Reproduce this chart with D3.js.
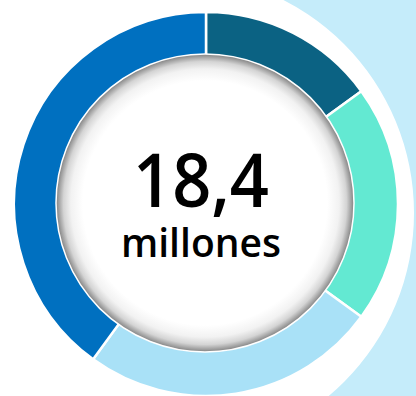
<!DOCTYPE html>
<html>
<head>
<meta charset="utf-8">
<script src="https://cdn.jsdelivr.net/npm/d3@7"></script>
<style>
  html, body { margin: 0; padding: 0; background: #fff; }
  svg { display: block; }
</style>
</head>
<body>
<svg id="chart" width="416" height="396"></svg>
<script>
// Share of the total per segment (%), clockwise from 12 o'clock
const categories = ["A", "B", "C", "D"];
const shares = [15, 20, 25, 40];
const colors = ["#0B6283", "#63E9D2", "#A9E1F7", "#0070C0"];
const totalLabel = "18,4";
const unitLabel = "millones";

const width = 416, height = 396;
const cx = 206, cy = 204;
const outerR = 192, innerR = 146;
const discR = 149;

const svg = d3.select("#chart");
const defs = svg.append("defs");

// Decorative backdrop: pale blue area outside a large circle on the right
defs.append("clipPath").attr("id", "rightSide")
  .append("rect").attr("x", 240).attr("y", 0).attr("width", width - 240).attr("height", height);
const bgCx = 175, bgCy = 213, bgR = 239;
svg.append("path")
  .attr("clip-path", "url(#rightSide)")
  .attr("fill", "#C5ECFA")
  .attr("fill-rule", "evenodd")
  .attr("d", `M0,0H${width}V${height}H0Z ` +
    `M${bgCx - bgR},${bgCy}a${bgR},${bgR} 0 1,0 ${2 * bgR},0a${bgR},${bgR} 0 1,0 ${-2 * bgR},0Z`);

// Donut ring
const pie = d3.pie().sort(null).value(d => d)(shares);
const arc = d3.arc().innerRadius(innerR).outerRadius(outerR);
const g = svg.append("g").attr("transform", `translate(${cx},${cy})`);
g.selectAll("path.seg")
  .data(pie)
  .join("path")
  .attr("class", "seg")
  .attr("d", arc)
  .attr("fill", (d, i) => colors[i])
  .attr("stroke", "#fff")
  .attr("stroke-width", 2.5)
  .attr("stroke-linejoin", "miter");

// Centre disc with an inset shadow towards its rim
const grad = defs.append("radialGradient").attr("id", "discShade")
  .attr("cx", "50%").attr("cy", "50%").attr("r", "50%");
[[0, "#ffffff"], [0.82, "#ffffff"], [0.9, "#f2f2f2"], [0.95, "#d4d4d4"], [0.985, "#9a9a9a"], [1, "#808080"]]
  .forEach(([o, c]) => grad.append("stop").attr("offset", o).attr("stop-color", c));
g.append("circle")
  .attr("cx", -1).attr("cy", -1)
  .attr("r", discR)
  .attr("fill", "url(#discShade)")
  .attr("stroke", "#fff")
  .attr("stroke-width", 1.5);

// Centre labels
g.append("text")
  .attr("x", -5).attr("y", 3)
  .attr("text-anchor", "middle")
  .attr("font-family", "'Open Sans', sans-serif")
  .attr("font-weight", 600)
  .attr("font-size", 75)
  .attr("textLength", 136)
  .attr("lengthAdjust", "spacingAndGlyphs")
  .attr("fill", "#000")
  .text(totalLabel);
g.append("text")
  .attr("x", -5).attr("y", 53)
  .attr("text-anchor", "middle")
  .attr("font-family", "'Open Sans', sans-serif")
  .attr("font-weight", 600)
  .attr("font-size", 40)
  .attr("textLength", 160)
  .attr("lengthAdjust", "spacingAndGlyphs")
  .attr("fill", "#000")
  .text(unitLabel);
</script>
</body>
</html>
